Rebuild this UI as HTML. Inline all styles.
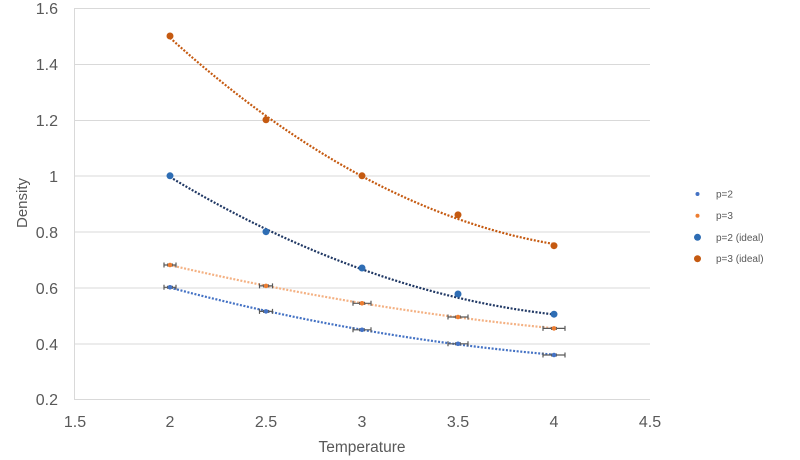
<!DOCTYPE html>
<html><head><meta charset="utf-8"><style>
html,body{margin:0;padding:0;background:#fff;}
svg{display:block;font-family:"Liberation Sans",Arial,sans-serif;}
</style></head><body>
<svg width="800" height="460" viewBox="0 0 800 460" xmlns="http://www.w3.org/2000/svg">
<rect width="800" height="460" fill="#fff"/>
<g stroke="#D9D9D9" stroke-width="1" fill="none">
<line x1="74" y1="8.5" x2="650" y2="8.5"/>
<line x1="74" y1="64.5" x2="650" y2="64.5"/>
<line x1="74" y1="120.5" x2="650" y2="120.5"/>
<line x1="74" y1="176" x2="650" y2="176"/>
<line x1="74" y1="232" x2="650" y2="232"/>
<line x1="74" y1="288" x2="650" y2="288"/>
<line x1="74" y1="344" x2="650" y2="344"/>
<line x1="74" y1="399.5" x2="650" y2="399.5"/>
<line x1="74.5" y1="8" x2="74.5" y2="400"/>
</g>
<g fill="#595959" font-size="16" text-anchor="end">
<text x="58" y="14">1.6</text>
<text x="58" y="70">1.4</text>
<text x="58" y="126">1.2</text>
<text x="58" y="182">1</text>
<text x="58" y="238">0.8</text>
<text x="58" y="294">0.6</text>
<text x="58" y="350">0.4</text>
<text x="58" y="405">0.2</text>
</g>
<g fill="#595959" font-size="16" text-anchor="middle">
<text x="75" y="427">1.5</text>
<text x="170" y="427">2</text>
<text x="266" y="427">2.5</text>
<text x="362" y="427">3</text>
<text x="458" y="427">3.5</text>
<text x="554" y="427">4</text>
<text x="650" y="427">4.5</text>
</g>
<text x="362" y="452" fill="#595959" font-size="15.5" text-anchor="middle">Temperature</text>
<text x="27" y="203" fill="#595959" font-size="15" text-anchor="middle" transform="rotate(-90 27 203)">Density</text>

<!-- trendlines -->
<g fill="none" stroke-width="2.2" stroke-dasharray="2 1.6">
<path d="M170,37.8 Q362,211.6 554,244.0" stroke="#C55A11"/>
<path d="M170,177.0 Q362,292.9 554,314.4" stroke="#203864"/>
<path d="M170,265.1 Q362,309.6 554,328.3" stroke="#F4B183"/>
<path d="M170,287.6 Q362,338.4 554,354.7" stroke="#4472C4"/>
</g>

<!-- error bars -->
<g stroke="#595959" stroke-width="1.2" fill="none">
<path d="M164,265 H176 M164,262.5 V267.5 M176,262.5 V267.5"/>
<path d="M259.5,285.9 H272.5 M259.5,283.4 V288.4 M272.5,283.4 V288.4"/>
<path d="M353,303.3 H371 M353,300.8 V305.8 M371,300.8 V305.8"/>
<path d="M448,317 H468 M448,314.5 V319.5 M468,314.5 V319.5"/>
<path d="M543,328.4 H565 M543,325.9 V330.9 M565,325.9 V330.9"/>
<path d="M164,287.3 H176 M164,284.8 V289.8 M176,284.8 V289.8"/>
<path d="M259.5,311.4 H272.5 M259.5,308.9 V313.9 M272.5,308.9 V313.9"/>
<path d="M353,329.8 H371 M353,327.3 V332.3 M371,327.3 V332.3"/>
<path d="M448,343.8 H468 M448,341.3 V346.3 M468,341.3 V346.3"/>
<path d="M543,355 H565 M543,352.5 V357.5 M565,352.5 V357.5"/>
</g>
<g fill="#595959">
<rect x="167" y="263.5" width="6" height="3"/>
<rect x="263" y="284.4" width="6" height="3"/>
<rect x="359" y="301.8" width="6" height="3"/>
<rect x="455" y="315.5" width="6" height="3"/>
<rect x="551" y="326.9" width="6" height="3"/>
<rect x="167" y="285.8" width="6" height="3"/>
<rect x="263" y="309.9" width="6" height="3"/>
<rect x="359" y="328.3" width="6" height="3"/>
<rect x="455" y="342.3" width="6" height="3"/>
<rect x="551" y="353.5" width="6" height="3"/>
</g>

<!-- sim markers -->
<g fill="#ED7D31">
<circle cx="170" cy="265" r="2.3"/><circle cx="266" cy="285.9" r="2.3"/><circle cx="362" cy="303.3" r="2.3"/><circle cx="458" cy="317" r="2.3"/><circle cx="554" cy="328.4" r="2.3"/>
</g>
<g fill="#4472C4">
<circle cx="170" cy="287.3" r="2.3"/><circle cx="266" cy="311.4" r="2.3"/><circle cx="362" cy="329.8" r="2.3"/><circle cx="458" cy="343.8" r="2.3"/><circle cx="554" cy="355" r="2.3"/>
</g>
<!-- ideal markers -->
<g fill="#C55A11">
<circle cx="170" cy="36" r="3.5"/><circle cx="266" cy="119.8" r="3.5"/><circle cx="362" cy="175.8" r="3.5"/><circle cx="458" cy="214.9" r="3.5"/><circle cx="554" cy="245.7" r="3.5"/>
</g>
<g fill="#2E6DB4">
<circle cx="170" cy="175.8" r="3.5"/><circle cx="266" cy="231.7" r="3.5"/><circle cx="362" cy="268" r="3.5"/><circle cx="458" cy="294" r="3.5"/><circle cx="554" cy="314.2" r="3.5"/>
</g>

<!-- legend -->
<circle cx="697.5" cy="194" r="2" fill="#4472C4"/>
<circle cx="697.5" cy="215.7" r="2" fill="#ED7D31"/>
<circle cx="697.5" cy="237.3" r="3.5" fill="#2E6DB4"/>
<circle cx="697.5" cy="258.7" r="3.5" fill="#C55A11"/>
<g fill="#595959" font-size="10">
<text x="716" y="197.5">p=2</text>
<text x="716" y="219.2">p=3</text>
<text x="716" y="240.8">p=2 (ideal)</text>
<text x="716" y="262.2">p=3 (ideal)</text>
</g>
</svg>
</body></html>
